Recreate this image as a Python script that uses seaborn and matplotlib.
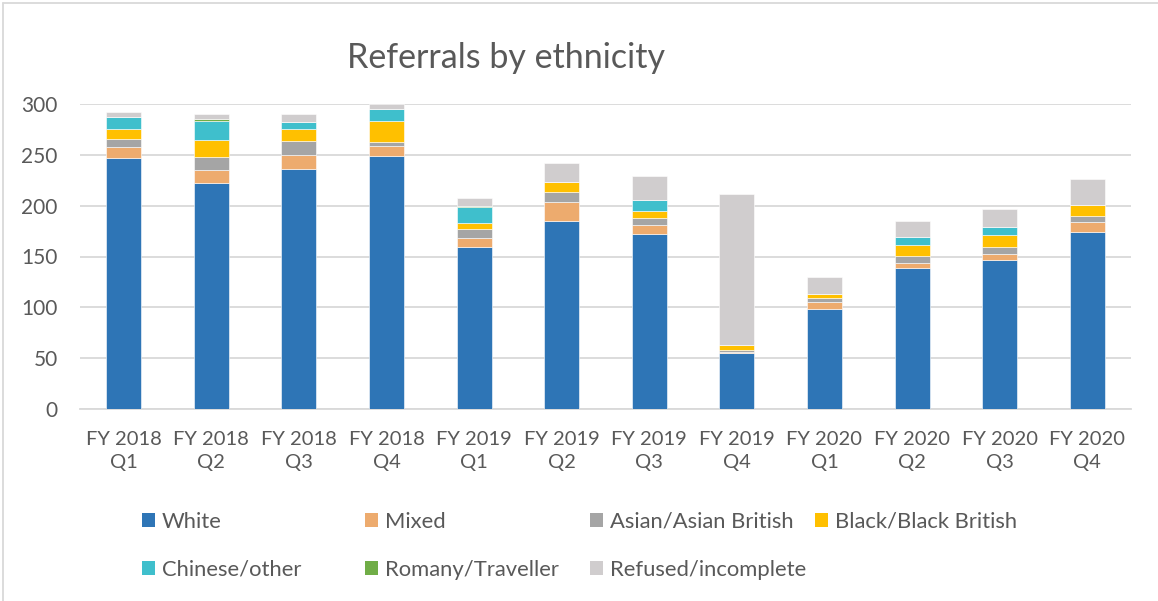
import matplotlib
matplotlib.use("Agg")
import matplotlib.pyplot as plt
import matplotlib.patches as mpatches
import seaborn as sns
import pandas as pd
import numpy as np

quarters = ["FY 2018\nQ1", "FY 2018\nQ2", "FY 2018\nQ3", "FY 2018\nQ4",
            "FY 2019\nQ1", "FY 2019\nQ2", "FY 2019\nQ3", "FY 2019\nQ4",
            "FY 2020\nQ1", "FY 2020\nQ2", "FY 2020\nQ3", "FY 2020\nQ4"]
white = [247, 222, 236, 249, 159, 185, 172, 55, 98, 139, 147, 174]
mixed = [11, 13, 14, 10, 9, 19, 9, 1, 7, 5, 5, 10]
asian = [8, 13, 14, 4, 9, 9, 7, 2, 4, 6, 7, 6]
black = [9, 17, 11, 20, 6, 10, 7, 5, 4, 11, 12, 11]
chinese = [12, 18, 7, 12, 16, 0, 11, 0, 0, 8, 8, 0]
romany = [0, 2, 0, 0, 1, 0, 0, 0, 0, 0, 0, 0]
refused = [5, 5, 8, 5, 8, 19, 23, 148, 17, 16, 18, 25]

series_names = ["White", "Mixed", "Asian/Asian British", "Black/Black British",
                "Chinese/other", "Romany/Traveller", "Refused/incomplete"]
series_values = [white, mixed, asian, black, chinese, romany, refused]
colors = ["#2E75B6", "#EDAB6E", "#A5A5A5", "#FFC000", "#3FBFCC", "#70AD47", "#D0CDCE"]

sns.set_theme(style="white")
plt.rcParams["font.family"] = ["Lato", "DejaVu Sans"]
text_color = "#595959"

W, H = 1158, 601
fig = plt.figure(figsize=(W / 100, H / 100), dpi=100)
ax = fig.add_axes([80 / W, 1 - 409 / H, (1131 - 80) / W, (409 - 104) / H])

bottom = np.zeros(len(quarters))
for name, vals, col in zip(series_names, series_values, colors):
    df = pd.DataFrame({"q": quarters, "v": vals})
    sns.barplot(data=df, x="q", y="v", order=quarters, color=col, width=0.4,
                bottom=bottom.copy(), ax=ax, saturation=1, errorbar=None,
                edgecolor="white", linewidth=0.4, zorder=3)
    bottom += np.array(vals)

ax.set_ylim(0, 300)
ax.set_xlim(-0.5, len(quarters) - 0.5)
ax.set_yticks(range(0, 301, 50))
ax.set_xlabel("")
ax.set_ylabel("")
ax.grid(axis="y", color="#D9D9D9", linewidth=1.3, zorder=0)
ax.set_axisbelow(True)
for s in ["top", "right", "left"]:
    ax.spines[s].set_visible(False)
ax.spines["bottom"].set_color("#D9D9D9")
ax.spines["bottom"].set_linewidth(1.3)
ax.tick_params(axis="y", length=0, pad=16, labelsize=15, labelcolor=text_color)
ax.tick_params(axis="x", length=0, pad=16, labelsize=14.5, labelcolor=text_color)
for lbl in ax.get_xticklabels():
    lbl.set_linespacing(1.4)

fig.text(506 / W, 1 - 58 / H, "Referrals by ethnicity", ha="center", va="center",
         fontsize=24.5, color=text_color)

# Legend in four columns, two rows
handles = [mpatches.Patch(facecolor=c, edgecolor="none") for c in colors]
cols = [[0, 4], [1, 5], [2, 6], [3]]
col_x = [142, 365, 590, 815]
for idxs, x in zip(cols, col_x):
    leg = fig.legend([handles[i] for i in idxs], [series_names[i] for i in idxs],
                     loc="upper left", bbox_to_anchor=(x / W, 1 - 512 / H),
                     frameon=False, fontsize=15.8, handlelength=0.6, handleheight=0.6,
                     handletextpad=0.3, labelspacing=1.26, borderpad=0, borderaxespad=0)
    for t in leg.get_texts():
        t.set_color(text_color)

# chart border
fig.add_artist(plt.Line2D([3 / W, 3 / W], [0, 1 - 3 / H], color="#D9D9D9", lw=1.3,
                          transform=fig.transFigure))
fig.add_artist(plt.Line2D([3 / W, 1], [1 - 3 / H, 1 - 3 / H], color="#D9D9D9", lw=1.3,
                          transform=fig.transFigure))

fig.savefig("out.png", dpi=100, facecolor="white")
